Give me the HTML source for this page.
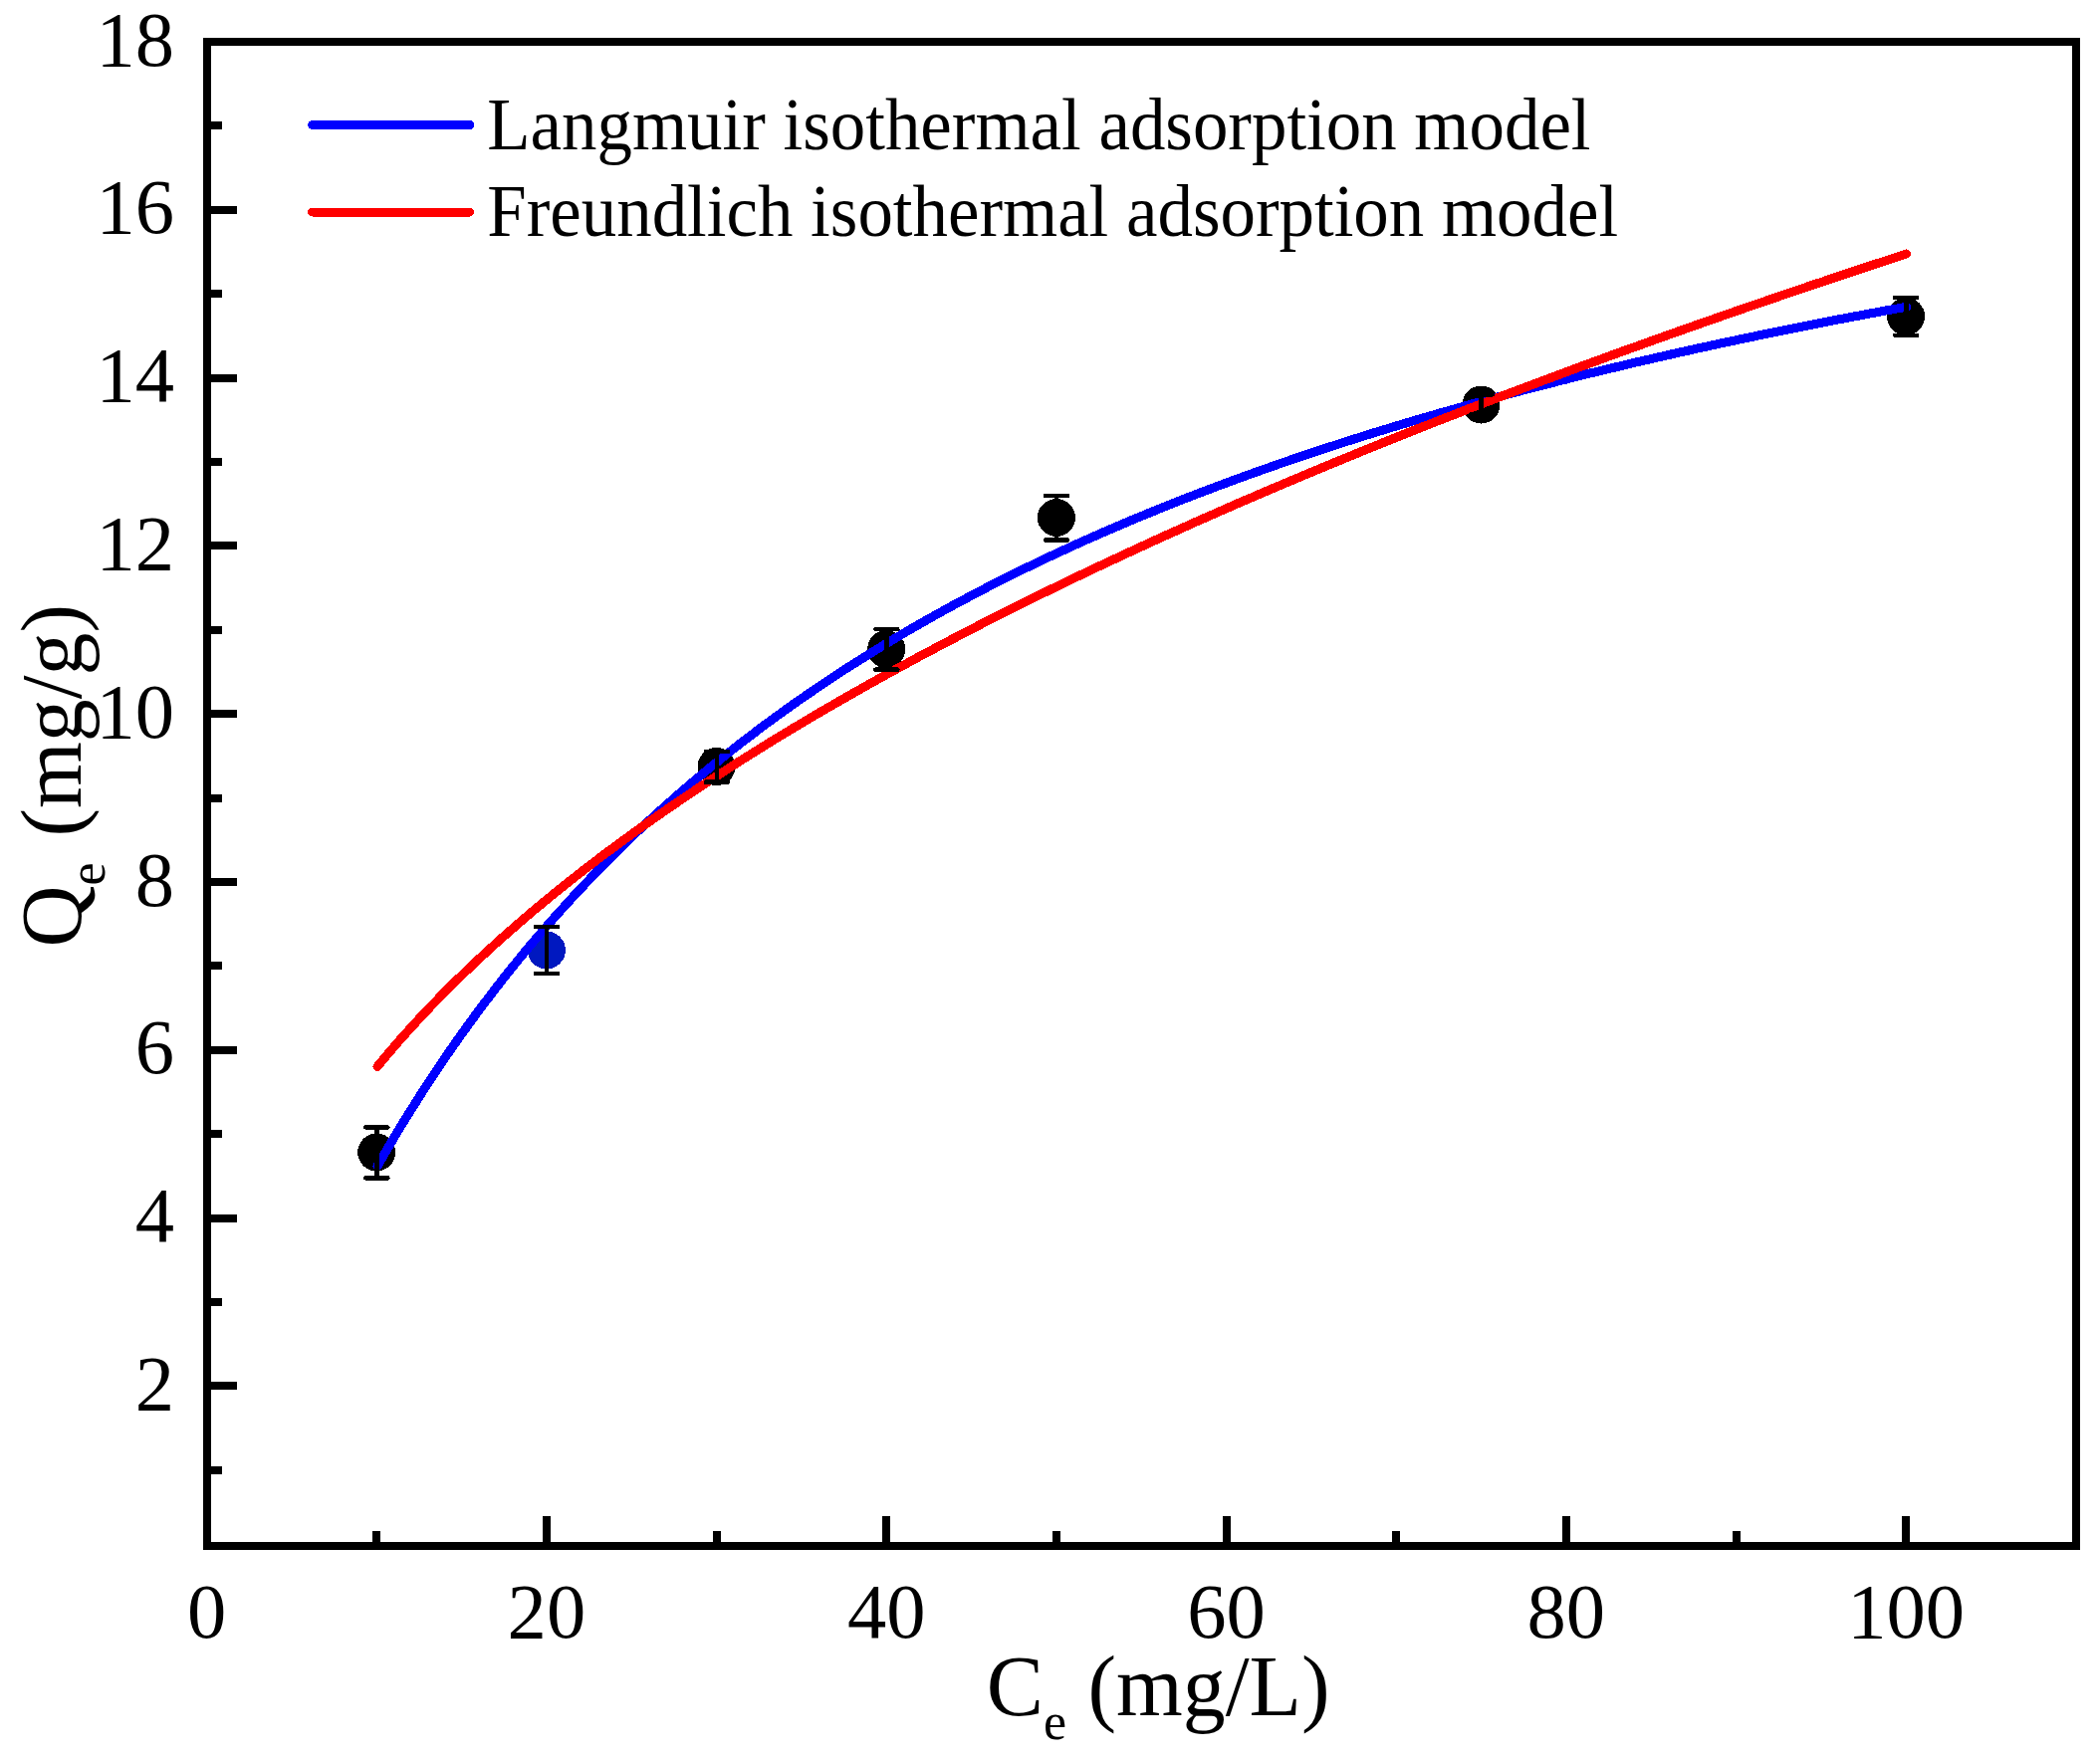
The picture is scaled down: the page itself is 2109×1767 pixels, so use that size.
<!DOCTYPE html>
<html lang="en"><head><meta charset="utf-8"><title>Isothermal adsorption models</title>
<style>html,body{margin:0;padding:0;background:#fff;}body{width:2109px;height:1767px;overflow:hidden;}svg{display:block;}text{font-family:'Liberation Serif', 'Times New Roman', serif;fill:#000;}</style>
</head><body>
<svg width="2109" height="1767" viewBox="0 0 2109 1767" shape-rendering="crispEdges">
<rect x="0" y="0" width="2109" height="1767" fill="#ffffff"/>
<g id="points">
<circle cx="378.2" cy="1157.5" r="19" fill="#000"/>
<circle cx="548.9" cy="954.5" r="19" fill="#0018c0"/>
<circle cx="719.6" cy="770.0" r="19" fill="#000"/>
<circle cx="890.2" cy="652.2" r="19" fill="#000"/>
<circle cx="1060.9" cy="520.0" r="19" fill="#000"/>
<circle cx="1487.5" cy="406.5" r="19" fill="#000"/>
<circle cx="1914.1" cy="317.9" r="19" fill="#000"/>
</g>
<path d="M378.9 1171.5 L387.4 1156.8 L395.9 1142.4 L404.4 1128.3 L413.0 1114.6 L421.5 1101.1 L430.0 1087.9 L438.6 1075.1 L447.1 1062.4 L455.6 1050.1 L464.2 1038.0 L472.7 1026.2 L481.2 1014.6 L489.8 1003.3 L498.3 992.2 L506.8 981.3 L515.4 970.6 L523.9 960.1 L532.4 949.8 L541.0 939.8 L549.5 929.9 L558.0 920.2 L566.6 910.7 L575.1 901.3 L583.6 892.2 L592.2 883.2 L600.7 874.3 L609.2 865.6 L617.8 857.1 L626.3 848.7 L634.8 840.5 L643.4 832.4 L651.9 824.4 L660.4 816.6 L669.0 808.9 L677.5 801.4 L686.0 793.9 L694.6 786.6 L703.1 779.4 L711.6 772.3 L720.2 765.4 L728.7 758.5 L737.2 751.8 L745.7 745.1 L754.3 738.6 L762.8 732.1 L771.3 725.8 L779.9 719.5 L788.4 713.4 L796.9 707.3 L805.5 701.3 L814.0 695.5 L822.5 689.7 L831.1 683.9 L839.6 678.3 L848.1 672.7 L856.7 667.3 L865.2 661.9 L873.7 656.6 L882.3 651.3 L890.8 646.1 L899.3 641.0 L907.9 636.0 L916.4 631.0 L924.9 626.1 L933.5 621.3 L942.0 616.5 L950.5 611.8 L959.1 607.1 L967.6 602.6 L976.1 598.0 L984.7 593.6 L993.2 589.1 L1001.7 584.8 L1010.3 580.5 L1018.8 576.2 L1027.3 572.0 L1035.9 567.9 L1044.4 563.8 L1052.9 559.7 L1061.5 555.7 L1070.0 551.8 L1078.5 547.9 L1087.0 544.0 L1095.6 540.2 L1104.1 536.5 L1112.6 532.7 L1121.2 529.1 L1129.7 525.4 L1138.2 521.8 L1146.8 518.3 L1155.3 514.8 L1163.8 511.3 L1172.4 507.9 L1180.9 504.5 L1189.4 501.1 L1198.0 497.8 L1206.5 494.5 L1215.0 491.3 L1223.6 488.0 L1232.1 484.9 L1240.6 481.7 L1249.2 478.6 L1257.7 475.5 L1266.2 472.5 L1274.8 469.5 L1283.3 466.5 L1291.8 463.5 L1300.4 460.6 L1308.9 457.7 L1317.4 454.9 L1326.0 452.0 L1334.5 449.2 L1343.0 446.5 L1351.6 443.7 L1360.1 441.0 L1368.6 438.3 L1377.2 435.6 L1385.7 433.0 L1394.2 430.4 L1402.8 427.8 L1411.3 425.2 L1419.8 422.7 L1428.3 420.2 L1436.9 417.7 L1445.4 415.2 L1453.9 412.8 L1462.5 410.4 L1471.0 408.0 L1479.5 405.6 L1488.1 403.2 L1496.6 400.9 L1505.1 398.6 L1513.7 396.3 L1522.2 394.0 L1530.7 391.8 L1539.3 389.6 L1547.8 387.4 L1556.3 385.2 L1564.9 383.0 L1573.4 380.9 L1581.9 378.7 L1590.5 376.6 L1599.0 374.5 L1607.5 372.5 L1616.1 370.4 L1624.6 368.4 L1633.1 366.3 L1641.7 364.3 L1650.2 362.4 L1658.7 360.4 L1667.3 358.4 L1675.8 356.5 L1684.3 354.6 L1692.9 352.7 L1701.4 350.8 L1709.9 348.9 L1718.5 347.1 L1727.0 345.2 L1735.5 343.4 L1744.0 341.6 L1752.6 339.8 L1761.1 338.0 L1769.6 336.2 L1778.2 334.5 L1786.7 332.7 L1795.2 331.0 L1803.8 329.3 L1812.3 327.6 L1820.8 325.9 L1829.4 324.2 L1837.9 322.6 L1846.4 320.9 L1855.0 319.3 L1863.5 317.7 L1872.0 316.1 L1880.6 314.5 L1889.1 312.9 L1897.6 311.3 L1906.2 309.8 L1914.7 308.2" fill="none" stroke="#0000ff" stroke-width="9" stroke-linecap="round" stroke-linejoin="round"/>
<path d="M378.9 1071.6 L387.4 1061.4 L395.9 1051.3 L404.4 1041.6 L413.0 1032.1 L421.5 1022.8 L430.0 1013.7 L438.6 1004.8 L447.1 996.2 L455.6 987.6 L464.2 979.3 L472.7 971.1 L481.2 963.1 L489.8 955.2 L498.3 947.4 L506.8 939.8 L515.4 932.3 L523.9 924.9 L532.4 917.6 L541.0 910.4 L549.5 903.4 L558.0 896.4 L566.6 889.6 L575.1 882.8 L583.6 876.1 L592.2 869.5 L600.7 863.0 L609.2 856.6 L617.8 850.2 L626.3 844.0 L634.8 837.8 L643.4 831.6 L651.9 825.6 L660.4 819.6 L669.0 813.6 L677.5 807.8 L686.0 802.0 L694.6 796.2 L703.1 790.5 L711.6 784.9 L720.2 779.3 L728.7 773.8 L737.2 768.3 L745.7 762.9 L754.3 757.5 L762.8 752.2 L771.3 746.9 L779.9 741.6 L788.4 736.5 L796.9 731.3 L805.5 726.2 L814.0 721.1 L822.5 716.1 L831.1 711.1 L839.6 706.2 L848.1 701.3 L856.7 696.4 L865.2 691.6 L873.7 686.8 L882.3 682.0 L890.8 677.3 L899.3 672.6 L907.9 668.0 L916.4 663.3 L924.9 658.7 L933.5 654.2 L942.0 649.6 L950.5 645.1 L959.1 640.7 L967.6 636.2 L976.1 631.8 L984.7 627.4 L993.2 623.1 L1001.7 618.7 L1010.3 614.4 L1018.8 610.1 L1027.3 605.9 L1035.9 601.7 L1044.4 597.5 L1052.9 593.3 L1061.5 589.1 L1070.0 585.0 L1078.5 580.9 L1087.0 576.8 L1095.6 572.7 L1104.1 568.7 L1112.6 564.7 L1121.2 560.7 L1129.7 556.7 L1138.2 552.8 L1146.8 548.8 L1155.3 544.9 L1163.8 541.0 L1172.4 537.1 L1180.9 533.3 L1189.4 529.5 L1198.0 525.6 L1206.5 521.8 L1215.0 518.1 L1223.6 514.3 L1232.1 510.6 L1240.6 506.8 L1249.2 503.1 L1257.7 499.5 L1266.2 495.8 L1274.8 492.1 L1283.3 488.5 L1291.8 484.9 L1300.4 481.3 L1308.9 477.7 L1317.4 474.1 L1326.0 470.6 L1334.5 467.0 L1343.0 463.5 L1351.6 460.0 L1360.1 456.5 L1368.6 453.0 L1377.2 449.5 L1385.7 446.1 L1394.2 442.6 L1402.8 439.2 L1411.3 435.8 L1419.8 432.4 L1428.3 429.0 L1436.9 425.7 L1445.4 422.3 L1453.9 419.0 L1462.5 415.7 L1471.0 412.3 L1479.5 409.0 L1488.1 405.7 L1496.6 402.5 L1505.1 399.2 L1513.7 396.0 L1522.2 392.7 L1530.7 389.5 L1539.3 386.3 L1547.8 383.1 L1556.3 379.9 L1564.9 376.7 L1573.4 373.5 L1581.9 370.4 L1590.5 367.2 L1599.0 364.1 L1607.5 361.0 L1616.1 357.8 L1624.6 354.7 L1633.1 351.6 L1641.7 348.6 L1650.2 345.5 L1658.7 342.4 L1667.3 339.4 L1675.8 336.3 L1684.3 333.3 L1692.9 330.3 L1701.4 327.3 L1709.9 324.3 L1718.5 321.3 L1727.0 318.3 L1735.5 315.3 L1744.0 312.4 L1752.6 309.4 L1761.1 306.5 L1769.6 303.6 L1778.2 300.6 L1786.7 297.7 L1795.2 294.8 L1803.8 291.9 L1812.3 289.0 L1820.8 286.1 L1829.4 283.3 L1837.9 280.4 L1846.4 277.6 L1855.0 274.7 L1863.5 271.9 L1872.0 269.0 L1880.6 266.2 L1889.1 263.4 L1897.6 260.6 L1906.2 257.8 L1914.7 255.0" fill="none" stroke="#ff0000" stroke-width="9" stroke-linecap="round" stroke-linejoin="round"/>
<g id="errorbars" stroke="#000" stroke-width="4.6" stroke-linecap="round" fill="none">
<path d="M378.4 1132.5V1183.4M367.4 1132.5H389.4M367.4 1183.4H389.4"/>
<path d="M549.1 931.0V978.0M538.1 931.0H560.1M538.1 978.0H560.1"/>
<path d="M719.8 755.0V785.7M708.8 755.0H730.8M708.8 785.7H730.8"/>
<path d="M890.4 632.1V672.6M879.4 632.1H901.4M879.4 672.6H901.4"/>
<path d="M1061.1 498.0V542.5M1050.1 498.0H1072.1M1050.1 542.5H1072.1"/>
<path d="M1487.7 396.3V416.7M1476.7 396.3H1498.7M1476.7 416.7H1498.7"/>
<path d="M1914.3 299.0V336.8M1903.3 299.0H1925.3M1903.3 336.8H1925.3"/>
</g>
<rect x="208.0" y="42.0" width="1877.0" height="1511.0" fill="none" stroke="#000" stroke-width="8"/>
<g id="ticks" stroke="#000" stroke-width="8">
<line x1="208.0" y1="1476.8" x2="223.0" y2="1476.8"/>
<line x1="208.0" y1="1392.4" x2="238.0" y2="1392.4"/>
<line x1="208.0" y1="1308.0" x2="223.0" y2="1308.0"/>
<line x1="208.0" y1="1223.6" x2="238.0" y2="1223.6"/>
<line x1="208.0" y1="1139.2" x2="223.0" y2="1139.2"/>
<line x1="208.0" y1="1054.8" x2="238.0" y2="1054.8"/>
<line x1="208.0" y1="970.4" x2="223.0" y2="970.4"/>
<line x1="208.0" y1="886.0" x2="238.0" y2="886.0"/>
<line x1="208.0" y1="801.6" x2="223.0" y2="801.6"/>
<line x1="208.0" y1="717.2" x2="238.0" y2="717.2"/>
<line x1="208.0" y1="632.8" x2="223.0" y2="632.8"/>
<line x1="208.0" y1="548.4" x2="238.0" y2="548.4"/>
<line x1="208.0" y1="464.0" x2="223.0" y2="464.0"/>
<line x1="208.0" y1="379.6" x2="238.0" y2="379.6"/>
<line x1="208.0" y1="295.2" x2="223.0" y2="295.2"/>
<line x1="208.0" y1="210.8" x2="238.0" y2="210.8"/>
<line x1="208.0" y1="126.4" x2="223.0" y2="126.4"/>
<line x1="378.2" y1="1553.0" x2="378.2" y2="1538.0"/>
<line x1="548.9" y1="1553.0" x2="548.9" y2="1523.0"/>
<line x1="719.6" y1="1553.0" x2="719.6" y2="1538.0"/>
<line x1="890.2" y1="1553.0" x2="890.2" y2="1523.0"/>
<line x1="1060.9" y1="1553.0" x2="1060.9" y2="1538.0"/>
<line x1="1231.5" y1="1553.0" x2="1231.5" y2="1523.0"/>
<line x1="1402.2" y1="1553.0" x2="1402.2" y2="1538.0"/>
<line x1="1572.8" y1="1553.0" x2="1572.8" y2="1523.0"/>
<line x1="1743.5" y1="1553.0" x2="1743.5" y2="1538.0"/>
<line x1="1914.1" y1="1553.0" x2="1914.1" y2="1523.0"/>
</g>
<g id="ylabels" font-size="78.6" text-anchor="end">
<text x="175" y="1416.0">2</text>
<text x="175" y="1247.2">4</text>
<text x="175" y="1078.4">6</text>
<text x="175" y="909.6">8</text>
<text x="175" y="740.8">10</text>
<text x="175" y="572.0">12</text>
<text x="175" y="403.2">14</text>
<text x="175" y="234.4">16</text>
<text x="175" y="65.6">18</text>
</g>
<g id="xlabels" font-size="78.6" text-anchor="middle">
<text x="207.6" y="1645.2">0</text>
<text x="548.9" y="1645.2">20</text>
<text x="890.2" y="1645.2">40</text>
<text x="1231.5" y="1645.2">60</text>
<text x="1572.8" y="1645.2">80</text>
<text x="1914.1" y="1645.2">100</text>
</g>
<text id="xtitle" x="990.7" y="1723" font-size="85.8">C<tspan font-size="52" dy="24">e</tspan><tspan dy="-24"> (mg/L)</tspan></text>
<text id="ytitle" transform="translate(80.5 951.5) rotate(-90)" font-size="85.8">Q<tspan font-size="52" dy="24">e</tspan><tspan dy="-24" dx="4.5"> (mg/g)</tspan></text>
<g id="legend">
<line x1="313.6" y1="125.5" x2="471.6" y2="125.5" stroke="#0000ff" stroke-width="9" stroke-linecap="round"/>
<line x1="313.6" y1="213" x2="471.6" y2="213" stroke="#ff0000" stroke-width="9" stroke-linecap="round"/>
<text transform="translate(489.3 149.8) scale(0.9567 1)" font-size="74.1">Langmuir isothermal adsorption model</text>
<text transform="translate(489.3 236.6) scale(0.9567 1)" font-size="74.1">Freundlich isothermal adsorption model</text>
</g>
</svg>
</body></html>
